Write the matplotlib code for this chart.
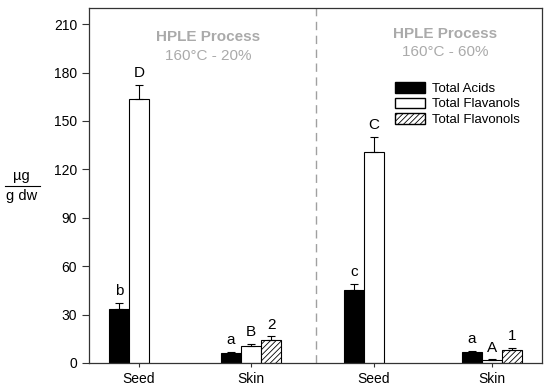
import numpy as np
import matplotlib.pyplot as plt
from matplotlib.patches import Patch

plt.rcParams['font.family'] = ['Liberation Sans', 'DejaVu Sans']
plt.rcParams['hatch.color'] = '#777777'
plt.rcParams['hatch.linewidth'] = 0.6

# data (µg / g dw)
groups = ["Seed", "Skin", "Seed", "Skin"]
group_pos = [2.5, 8.1, 14.25, 20.15]

acids = [33.5, 6.3, 45.5, 6.8]
acids_err = [3.5, 0.8, 3.5, 0.6]
flavanols = [163.5, 10.5, 131.0, 1.8]
flavanols_err = [9.0, 1.3, 9.0, 0.4]
flavonols = [0.0, 14.0, 0.0, 8.0]
flavonols_err = [0.0, 2.5, 0.0, 1.5]

acids_lbl = ["b", "a", "c", "a"]
flavanols_lbl = ["D", "B", "C", "A"]
flavonols_lbl = ["", "2", "", "1"]

w = 1.0
x = np.array(group_pos)

fig = plt.figure(figsize=(5.5, 3.91), dpi=100)
ax = fig.add_axes([89/550, 1-363/391, 453/550, 355/391])

ek = dict(ecolor='black', capsize=3, elinewidth=0.8, capthick=0.8)
ax.bar(x - w, acids, w, color='black', edgecolor='black', lw=0.8, label='Total Acids')
ax.errorbar(x - w, acids, yerr=[np.zeros(4), acids_err], fmt='none', **ek)
ax.bar(x, flavanols, w, color='white', edgecolor='black', lw=0.8, label='Total Flavanols')
ax.errorbar(x, flavanols, yerr=[np.zeros(4), flavanols_err], fmt='none', **ek)
mask = np.array(flavonols) > 0
ax.bar(x[mask] + w, np.array(flavonols)[mask], w, color='white', edgecolor='black',
       lw=0.8, hatch='//////', label='Total Flavonols')
ax.errorbar(x[mask] + w, np.array(flavonols)[mask],
            yerr=[np.zeros(mask.sum()), np.array(flavonols_err)[mask]], fmt='none', **ek)

for i in range(4):
    ax.text(x[i] - w, acids[i] + acids_err[i] + 3, acids_lbl[i], ha='center', va='bottom', fontsize=11)
    ax.text(x[i], flavanols[i] + flavanols_err[i] + 3, flavanols_lbl[i], ha='center', va='bottom', fontsize=11)
    if flavonols_lbl[i]:
        ax.text(x[i] + w, flavonols[i] + flavonols_err[i] + 3, flavonols_lbl[i], ha='center', va='bottom', fontsize=11)

ax.axvline(11.35, color='#a0a0a0', ls=(0, (6, 4)), lw=1.0)

ax.text(5.95, 202, "HPLE Process", ha='center', va='center', color='#aaaaaa', fontsize=11, fontweight='bold')
ax.text(5.95, 190.5, "160°C - 20%", ha='center', va='center', color='#aaaaaa', fontsize=11)
ax.text(17.8, 204, "HPLE Process", ha='center', va='center', color='#aaaaaa', fontsize=11, fontweight='bold')
ax.text(17.8, 193, "160°C - 60%", ha='center', va='center', color='#aaaaaa', fontsize=11)

ax.set_xlim(0, 22.65)
ax.set_ylim(0, 220)
ax.set_yticks(np.arange(0, 211, 30))
ax.set_xticks(x)
ax.set_xticklabels(groups)
ax.tick_params(axis='both', labelsize=10, direction='out', color='#333333')
ax.tick_params(axis='y', length=5)
ax.tick_params(axis='x', length=3)
for s in ax.spines.values():
    s.set_color('#333333')
    s.set_linewidth(0.9)

handles = [Patch(facecolor='black', edgecolor='black', label='Total Acids'),
           Patch(facecolor='white', edgecolor='black', label='Total Flavanols'),
           Patch(facecolor='white', edgecolor='black', hatch='//////', label='Total Flavonols')]
ax.legend(handles=handles, loc='upper left', bbox_to_anchor=(0.66, 0.81), frameon=False,
          fontsize=9.5, handlelength=2.3, handleheight=0.85, labelspacing=0.2, handletextpad=0.5,
          borderpad=0)

# y label as a fraction
fig.text(21/550, 1-176/391, "µg", ha='center', va='center', fontsize=10.5)
fig.text(22/550, 1-196/391, "g dw", ha='center', va='center', fontsize=10.5)
fig.add_artist(plt.Line2D([5/550, 40/550], [1-186/391, 1-186/391], color='black', lw=0.8))

fig.savefig("out.png", dpi=100)
